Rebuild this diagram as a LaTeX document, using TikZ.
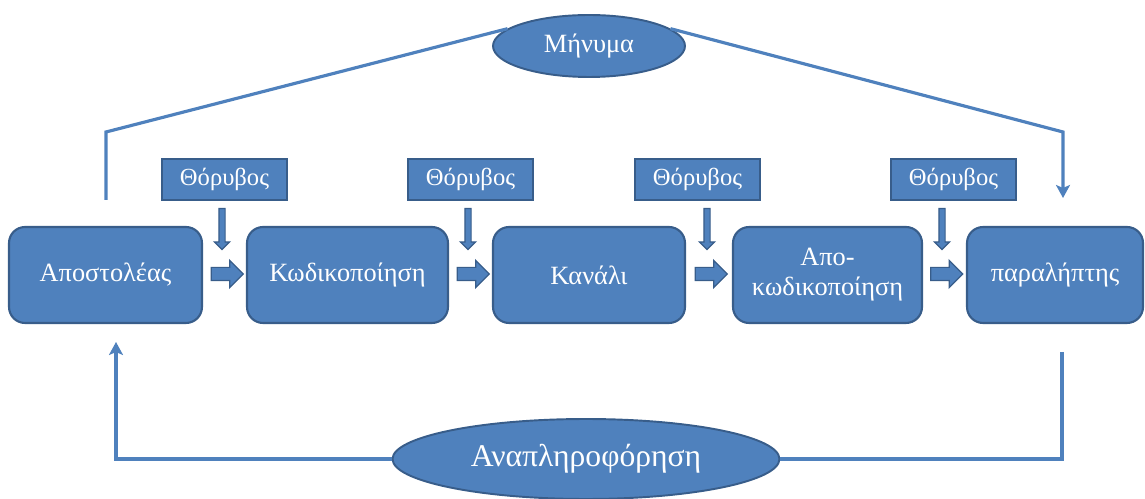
\documentclass[tikz,border=0pt]{standalone}
\usepackage{fontspec}
\setmainfont{Liberation Serif}
\usetikzlibrary{positioning,shapes.geometric,shapes.arrows,arrows.meta}
\definecolor{boxblue}{RGB}{79,129,189}
\definecolor{boxline}{RGB}{56,93,138}
\tikzset{
  stage/.style={draw=boxline, line width=1.2pt, fill=boxblue, rounded corners=0.32cm,
    text=white, minimum height=1.92cm, align=center, font=\fontsize{15}{17}\selectfont},
  noise/.style={draw=boxline, line width=1.1pt, fill=boxblue, text=white,
    minimum width=2.5cm, minimum height=0.82cm, font=\fontsize{14}{16}\selectfont},
  oval/.style={ellipse, draw=boxline, line width=1.1pt, fill=boxblue, text=white,
    inner sep=0pt, font=\fontsize{15}{17}\selectfont},
  link/.style={draw=boxblue, line width=1.8pt},
  flow/.style={link, -{Stealth[length=0.26cm, width=0.28cm, inset=0.06cm]}},
  push/.style={single arrow, draw=boxline, fill=boxblue, line width=0.7pt,
    inner xsep=0pt, inner ysep=0.12cm, minimum height=0.64cm,
    single arrow head extend=0.14cm},
  drop/.style={push, rotate=-90, inner ysep=0.05cm, minimum height=0.82cm,
    single arrow head extend=0.09cm}
}
\begin{document}
\begin{tikzpicture}[x=0.02cm, y=-0.02cm]
\useasboundingbox (0,0) rectangle (1145,499);
% main stages
\node[stage, minimum width=3.86cm] (snd) at (105.5,275) {Αποστολέας};
\node[stage, minimum width=4.02cm] (enc) at (347.5,275) {Κωδικοποίηση};
\node[stage, minimum width=3.84cm] (chn) at (589,275) {Κανάλι};
\node[stage, minimum width=3.78cm] (dec) at (827.5,275) {Απο-\\κωδικοποίηση};
\node[stage, minimum width=3.52cm] (rcv) at (1055,275) {παραλήπτης};
% noise
\node[noise] (n1) at (224.5,179.5) {Θόρυβος};
\node[noise] (n2) at (470.5,179.5) {Θόρυβος};
\node[noise] (n3) at (697.5,179.5) {Θόρυβος};
\node[noise] (n4) at (953.5,179.5) {Θόρυβος};
\node[drop] (d1) at (222,227.5) {};
\node[drop] (d2) at (468,227.5) {};
\node[drop] (d3) at (707,227.5) {};
\node[drop] (d4) at (942,227.5) {};
% block arrows between stages
\node[push] (r1) at (224,274) {};
\node[push] (r2) at (470,274) {};
\node[push] (r3) at (708,274) {};
\node[push] (r4) at (943.5,274) {};
% message and feedback
\node[oval, minimum width=3.84cm, minimum height=1.24cm] (msg) at (589,46) {Μήνυμα};
\node[oval, minimum width=7.74cm, minimum height=1.6cm,
  font=\fontsize{18}{20}\selectfont] (fb) at (586,459) {Αναπληροφόρηση};
\coordinate (s1) at (106,200);
\coordinate (s2) at (106,132);
\coordinate (t1) at (1063,132);
\coordinate (t2) at (1063,198);
\coordinate (b1) at (1062,352);
\coordinate (b2) at (116,342);
\draw[link] (s1) -- (s2) -- (msg.168);
\draw[flow] (msg.12) -- (t1) -- (t2);
\draw[link] (b1) |- (fb);
\draw[flow] (fb) -| (b2);
\end{tikzpicture}
\end{document}
